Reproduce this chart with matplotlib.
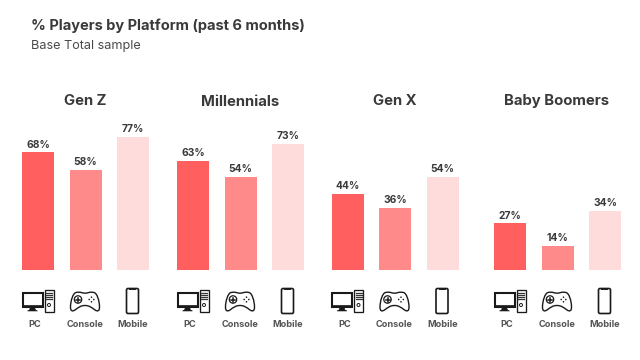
import matplotlib
matplotlib.use("Agg")
import matplotlib.pyplot as plt
from matplotlib.patches import Rectangle, FancyBboxPatch, PathPatch, Circle, Polygon
from matplotlib.path import Path

plt.rcParams['font.family'] = ['Inter', 'DejaVu Sans']

TITLE = "% Players by Platform (past 6 months)"
SUBTITLE = "Base Total sample"
platforms = ["PC", "Console", "Mobile"]
generations = ["Gen Z", "Millennials", "Gen X", "Baby Boomers"]
gen_z = [68, 58, 77]
millennials = [63, 54, 73]
gen_x = [44, 36, 54]
baby_boomers = [27, 14, 34]
series = [gen_z, millennials, gen_x, baby_boomers]

colors = ["#FF5F5F", "#FF8A8A", "#FFDCDC"]
INK = "#3A3A3A"
W, H = 640, 360
# layout in pixels
first_bar_center = [38, 193, 347.5, 510]
title_x = [85, 240, 394.5, 557]
title_y = [101, 102, 101, 100.5]
label_dx = [-3, -0.5, 0]
STEP, BAR = 47.5, 32
BASE_Y, PX_PER_UNIT = 270, 1.73

fig = plt.figure(figsize=(6.4, 3.6), dpi=100, facecolor="white")
fig.text(31 / W, 1 - 26 / H, TITLE, fontsize=10.5, fontweight="bold", color=INK, va="center", ha="left")
fig.text(31 / W, 1 - 45.5 / H, SUBTITLE, fontsize=9.1, color="#4A4A4A", va="center", ha="left")

for i, (name, vals) in enumerate(zip(generations, series)):
    left = first_bar_center[i] - STEP / 2
    ax = fig.add_axes([left / W, 1 - BASE_Y / H, 3 * STEP / W, 100 * PX_PER_UNIT / H])
    ax.set_xlim(-0.5, 2.5)
    ax.set_ylim(0, 100)
    bars = ax.bar(range(3), vals, width=BAR / STEP, color=colors)
    for b, v in zip(bars, vals):
        ax.annotate(f"{v}%", (b.get_x() + b.get_width() / 2, v), xytext=(0, 2.0),
                    textcoords="offset points", ha="center", va="bottom",
                    fontsize=7.4, fontweight="bold", color=INK)
    ax.patch.set_alpha(0)
    for s in ax.spines.values():
        s.set_visible(False)
    ax.set_yticks([])
    ax.set_xticks([k + label_dx[k] / STEP for k in range(3)])
    ax.set_xticklabels(platforms, fontsize=6.6, fontweight="bold", color="#555555")
    ax.tick_params(axis="x", length=0, pad=35.7)
    fig.text(title_x[i] / W, 1 - title_y[i] / H, name, fontsize=10.7, fontweight="bold",
             color=INK, ha="center", va="center")

# overlay for the pictogram icons, in pixel coordinates
ov = fig.add_axes([0, 0, 1, 1], zorder=5)
ov.set_xlim(0, W)
ov.set_ylim(H, 0)
ov.axis("off")
LW = 0.95
DK = "#1A1A1A"


def pc_icon(cx):
    x = cx - 15.5
    ov.add_patch(Rectangle((x, 293), 20, 14, fc="white", ec=DK, lw=1.5))
    ov.add_patch(Rectangle((x, 304.5), 20, 2.5, fc=DK, ec=DK, lw=0.5))
    ov.add_patch(Polygon([(x + 8, 307), (x + 12, 307), (x + 13, 310), (x + 15, 311),
                          (x + 5, 311), (x + 7, 310)], fc=DK, ec=DK, lw=0.4))
    ov.add_patch(Rectangle((x + 22, 290), 9, 21.5, fc="white", ec=DK, lw=LW))
    for yy in (293, 295, 297, 299):
        ov.plot([x + 23.5, x + 29.5], [yy, yy], color="#333333", lw=0.9)
    ov.add_patch(Circle((x + 26.5, 305), 1.5, fc="white", ec=DK, lw=0.7))


def console_icon(cx):
    c = cx
    verts = [
        (c - 9, 292.5), (c - 4, 291.5), (c - 3, 293.2), (c, 293.2), (c + 3, 293.2), (c + 4, 291.5), (c + 9, 292.5),
        (c + 12, 293), (c + 14.5, 301), (c + 14.5, 307),
        (c + 14.5, 311.5), (c + 12.5, 311.5), (c + 10, 310),
        (c + 6, 307), (c + 4, 305.5), (c, 305.5),
        (c - 4, 305.5), (c - 6, 307), (c - 10, 310),
        (c - 12.5, 311.5), (c - 14.5, 311.5), (c - 14.5, 307),
        (c - 14.5, 301), (c - 12, 293), (c - 9, 292.5),
    ]
    codes = [Path.MOVETO] + [Path.CURVE4] * 24
    ov.add_patch(PathPatch(Path(verts, codes), fc="white", ec=DK, lw=1.0))
    ov.add_patch(Circle((c - 7, 299.5), 3.7, fc="white", ec=DK, lw=0.9))
    ov.plot([c - 9, c - 5], [299.5, 299.5], color=DK, lw=1.1)
    ov.plot([c - 7, c - 7], [297.5, 301.5], color=DK, lw=1.1)
    for dx, dy in [(0, -2.3), (0, 2.3), (-2.3, 0), (2.3, 0)]:
        ov.add_patch(Circle((c + 6.5 + dx, 299.5 + dy), 0.8, fc=DK, ec="none"))


def mobile_icon(cx):
    ov.add_patch(FancyBboxPatch((cx - 6, 288.5), 12, 25, boxstyle="round,pad=0,rounding_size=1.5",
                                fc="white", ec=DK, lw=1.2))
    ov.plot([cx - 2.5, cx + 2.5], [289.3, 289.3], color=DK, lw=1.4)


for c in first_bar_center:
    pc_icon(c)
    console_icon(c + 47)
    mobile_icon(c + 94.5)

fig.savefig("out.png", dpi=100, facecolor="white")
